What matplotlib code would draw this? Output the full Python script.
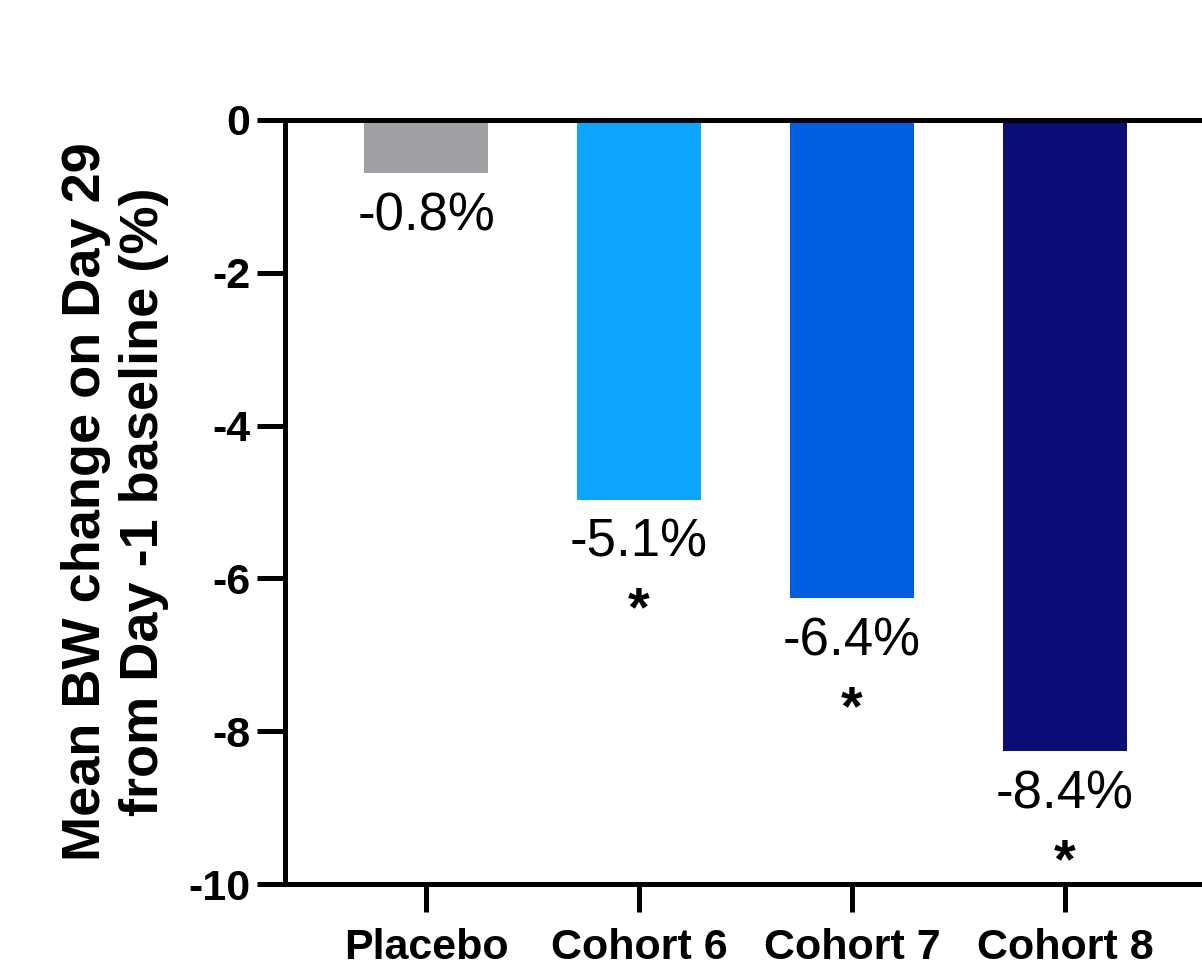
import matplotlib
matplotlib.use("Agg")
import matplotlib.pyplot as plt

## 데이터 ##
groups = ["Placebo", "Cohort 6", "Cohort 7", "Cohort 8"]
bw_change = [-0.7, -4.97, -6.26, -8.26]
value_labels = ["-0.8%", "-5.1%", "-6.4%", "-8.4%"]
signif = ["", "*", "*", "*"]
bar_colors = ["#a0a0a4", "#0ea5ff", "#005ee0", "#0b0d77"]
y_ticks = [0, -2, -4, -6, -8, -10]

plt.rcParams['font.family'] = ['Liberation Sans', 'DejaVu Sans']

fig = plt.figure(figsize=(12.02, 9.68), dpi=100)
ax = fig.add_axes([285 / 1202, 84 / 968, 1 - 285 / 1202, (884 - 120) / 968])

x = range(len(groups))
ax.bar(x, bw_change, width=0.58, color=bar_colors, zorder=1)

# 막대 아래 라벨 #
for i in x:
    ax.annotate(value_labels[i], (i, bw_change[i]), xytext=(0, -43),
                textcoords='offset pixels', ha='center', va='center', fontsize=38)
    if signif[i]:
        ax.annotate(signif[i], (i, bw_change[i]), xytext=(0, -112),
                    textcoords='offset pixels', ha='center', va='center',
                    fontsize=40, fontweight='bold')

ax.set_xlim(-0.662, 3.643)
ax.set_ylim(-10, 0)
ax.set_yticks(y_ticks)
ax.set_yticklabels([str(t) for t in y_ticks])
ax.set_xticks(list(x))
ax.set_xticklabels(groups)

for side in ['left', 'top', 'bottom']:
    ax.spines[side].set_linewidth(3.6)
    ax.spines[side].set_zorder(3)
ax.spines['right'].set_visible(False)

ax.tick_params(axis='both', width=3.6, length=20, labelsize=31, pad=5)
ax.tick_params(axis='x', pad=12)
for lab in ax.get_xticklabels() + ax.get_yticklabels():
    lab.set_fontweight('bold')

ax.set_ylabel("Mean BW change on Day 29\nfrom Day -1 baseline (%)",
              fontsize=39, fontweight='bold', labelpad=14, linespacing=1.2)

fig.savefig("out.png", dpi=100)
